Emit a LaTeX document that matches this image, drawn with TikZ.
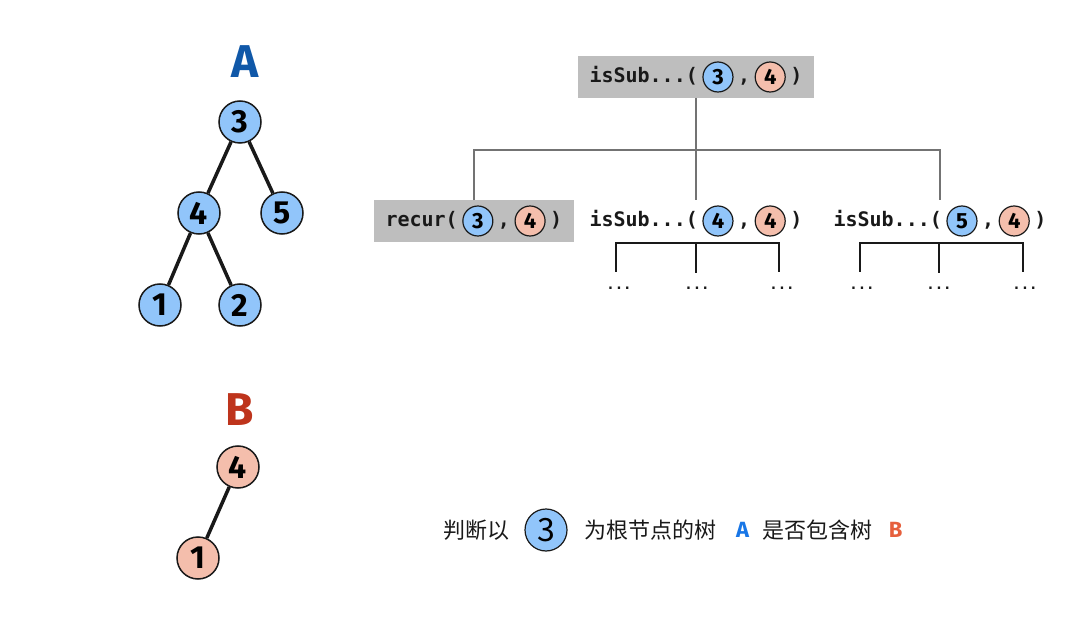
\documentclass[tikz,border=0pt]{standalone}
\usepackage{fontspec}
\setmainfont{Fira Sans}
\newfontfamily\codefont{DejaVu Sans Mono}
\newfontfamily\cjk{Noto Sans CJK SC}
\usetikzlibrary{positioning,fit,backgrounds}

\definecolor{ballblue}{RGB}{145,197,250}
\definecolor{ballpink}{RGB}{244,190,172}
\definecolor{ink}{RGB}{25,25,25}
\definecolor{titleA}{RGB}{16,88,168}
\definecolor{titleB}{RGB}{190,52,28}
\definecolor{boxgray}{RGB}{190,190,190}
\definecolor{linkgray}{RGB}{115,115,115}
\definecolor{markA}{RGB}{24,118,230}
\definecolor{markB}{RGB}{230,95,60}

\tikzset{every picture/.style={line width=1pt}}
\tikzset{
  bigball/.style={circle, draw=ink, line width=1.5pt, minimum size=42pt, inner sep=0pt,
    font=\fontsize{32}{32}\selectfont\bfseries},
  smallball/.style={circle, draw=ink, line width=1.2pt, minimum size=30pt, inner sep=0pt,
    font=\fontsize{22}{22}\selectfont\bfseries},
  edge/.style={draw=ink, line width=3.5pt},
  treetitle/.style={font=\fontsize{46}{46}\selectfont\bfseries},
  fn/.style={inner sep=0pt, text height=15pt, text depth=4pt, text=ink,
    font=\codefont\fontsize{20}{20}\selectfont\bfseries},
  callbox/.style={fill=boxgray, inner xsep=11pt, inner ysep=5pt},
  callrow/.style={inner xsep=11pt, inner ysep=5pt},
  link/.style={draw=linkgray, line width=2pt},
  bracket/.style={draw=ink, line width=2pt},
  dots/.style={inner sep=0pt, text=ink, font=\codefont\fontsize{14}{14}\selectfont\bfseries},
  note/.style={inner sep=0pt, text=ink, font=\cjk\fontsize{22}{22}\selectfont},
  treemark/.style={inner sep=0pt, font=\fontsize{22}{22}\selectfont\bfseries},
}

\begin{document}
\begin{tikzpicture}[x=1pt,y=1pt,yscale=-1,xscale=1]
  \useasboundingbox (0,0) rectangle (1087,620);

  % tree A
  \node[treetitle, text=titleA] (labA) at (245,62) {A};
  \node[bigball, fill=ballblue] (a3) at (240,122) {3};
  \node[bigball, fill=ballblue] (a4) at (199,213) {4};
  \node[bigball, fill=ballblue] (a5) at (282,213) {5};
  \node[bigball, fill=ballblue] (a1) at (160,305) {1};
  \node[bigball, fill=ballblue] (a2) at (240,305) {2};
  \draw[edge] (a3) -- (a4);
  \draw[edge] (a3) -- (a5);
  \draw[edge] (a4) -- (a1);
  \draw[edge] (a4) -- (a2);

  % tree B
  \node[treetitle, text=titleB] (labB) at (240,410) {B};
  \node[bigball, fill=ballpink] (b4) at (238,467) {4};
  \node[bigball, fill=ballpink] (b1) at (198,558) {1};
  \draw[edge] (b4) -- (b1);

  % top call
  \node[fn, anchor=west] (t1) at (589,77) {isSub...(};
  \node[smallball, fill=ballblue, right=4pt of t1] (t1a) {3};
  \node[fn, right=4pt of t1a] (t1c) {,};
  \node[smallball, fill=ballpink, right=4pt of t1c] (t1b) {4};
  \node[fn, right=4pt of t1b] (t1e) {)};

  % recur call
  \node[fn, anchor=west] (r1) at (385,221) {recur(};
  \node[smallball, fill=ballblue, right=4pt of r1] (r1a) {3};
  \node[fn, right=4pt of r1a] (r1c) {,};
  \node[smallball, fill=ballpink, right=4pt of r1c] (r1b) {4};
  \node[fn, right=4pt of r1b] (r1e) {)};

  % left child call
  \node[fn, anchor=west] (s2) at (589,221) {isSub...(};
  \node[smallball, fill=ballblue, right=4pt of s2] (s2a) {4};
  \node[fn, right=4pt of s2a] (s2c) {,};
  \node[smallball, fill=ballpink, right=4pt of s2c] (s2b) {4};
  \node[fn, right=4pt of s2b] (s2e) {)};

  % right child call
  \node[fn, anchor=west] (s3) at (833,221) {isSub...(};
  \node[smallball, fill=ballblue, right=4pt of s3] (s3a) {5};
  \node[fn, right=4pt of s3a] (s3c) {,};
  \node[smallball, fill=ballpink, right=4pt of s3c] (s3b) {4};
  \node[fn, right=4pt of s3b] (s3e) {)};

  \begin{pgfonlayer}{background}
    \node[callbox, fit=(t1)(t1a)(t1e)] (top) {};
    \node[callbox, fit=(r1)(r1a)(r1e)] (rec) {};
  \end{pgfonlayer}
  \node[callrow, fit=(s2)(s2a)(s2e)] (sub2) {};
  \node[callrow, fit=(s3)(s3a)(s3e)] (sub3) {};

  % links
  \draw[link] (top.south) -- (sub2.north);
  \draw[link] (rec.north) -- ++(0,-50) -| (sub3.north);

  % brackets under the child calls
  \coordinate (l21) at (616,272);
  \coordinate (l22) at (696,273);
  \coordinate (l23) at (779,272);
  \coordinate (l31) at (860,272);
  \coordinate (l32) at (939,273);
  \coordinate (l33) at (1023,272);
  \draw[bracket] (l21) -- ++(0,-29) -| (l23);
  \draw[bracket] (l22) -- ++(0,-30);
  \draw[bracket] (l31) -- ++(0,-29) -| (l33);
  \draw[bracket] (l32) -- ++(0,-30);
  \node[dots, below=15pt of l21, xshift=3pt] (d21) {...};
  \node[dots, below=14pt of l22, xshift=1pt] (d22) {...};
  \node[dots, below=15pt of l23, xshift=3pt] (d23) {...};
  \node[dots, below=15pt of l31, xshift=2pt] (d31) {...};
  \node[dots, below=14pt of l32] (d32) {...};
  \node[dots, below=15pt of l33, xshift=2pt] (d33) {...};

  % question line
  \node[note, anchor=west] (q1) at (443,530) {判断以};
  \node[circle, draw=ink, line width=1.2pt, fill=ballblue, minimum size=42pt, inner sep=0pt,
    font=\cjk\fontsize{32}{32}\selectfont, right=15pt of q1] (q3) {3};
  \node[note, right=17pt of q3] (q2) {为根节点的树};
  \node[treemark, text=markA, right=19pt of q2] (qa) {A};
  \node[note, right=13pt of qa] (q4) {是否包含树};
  \node[treemark, text=markB, right=16pt of q4] (qb) {B};
\end{tikzpicture}
\end{document}
